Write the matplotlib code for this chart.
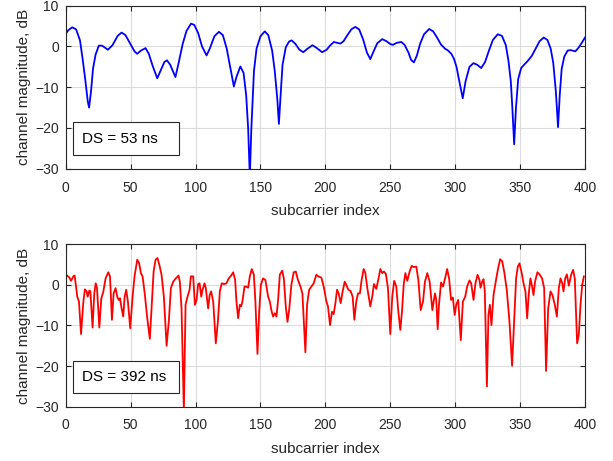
import matplotlib
matplotlib.use("Agg")
import matplotlib.pyplot as plt
from matplotlib.patches import Rectangle

plt.rcParams['font.family'] = ['Liberation Sans', 'DejaVu Sans']

# ---- data ----
blue_x = [0, 2, 5, 8, 11, 13, 15, 17, 18, 19.5, 21, 23, 25.5, 28, 32.5, 36, 40, 43, 46, 50,
          53, 55, 58, 61.5, 64, 67, 70.5, 73, 76, 78, 80.5, 84.5, 87, 90, 93, 96.5, 99, 102,
          105, 108.5, 111, 114.5, 118, 121, 124, 127, 129.5, 131.5, 134.5, 137, 139, 140.5,
          141.8, 143, 145, 147, 150, 153.3, 156, 159, 161, 163, 164.2, 165.5, 167, 169.5,
          172, 174, 177, 180, 183, 186, 190, 193, 197.5, 201, 203.5, 206.5, 209, 211.5, 214,
          217, 220, 223, 226, 229, 232, 234.6, 237, 240, 243.8, 247, 250, 252, 255, 258.5,
          261, 264, 266, 268.2, 270.5, 273, 276, 280, 283, 286, 289, 292, 294.5, 297, 299,
          301, 303, 305.8, 308, 311, 314, 317, 320, 323, 326, 329, 332.8, 336, 339, 341,
          342.8, 344, 345.4, 346.8, 348.5, 350.8, 353, 356, 359, 362, 365, 368.2, 371,
          373.5, 375.5, 377.5, 379.2, 380.5, 382, 384, 386.6, 389, 392.5, 395, 397.5, 400]
blue_db = [3.1, 4.0, 4.7, 4.2, 1.5, -3, -8, -13.5, -15, -11, -5.5, -2, 0.2, 0.2, -0.8, 0.3,
           2.6, 3.4, 2.8, 0.5, -1.2, -1.8, -1.0, -0.4, -1.8, -4.8, -7.8, -6, -3.8, -3.4,
           -4.5, -7.5, -4, 0.5, 3.8, 5.6, 5.3, 3.3, 0, -2.2, -0.5, 2.5, 3.6, 2.8, -0.5,
           -5.5, -9.8, -7.5, -4.9, -6.5, -12, -20, -32, -20, -6, -0.5, 2.5, 3.7, 2.8, -1,
           -6, -13, -19, -12, -4.5, -0.2, 1.2, 1.5, 0.6, -0.8, -1.4, -0.6, 0.3, -0.3, -1.4,
           -0.8, 0.2, 1.1, 0.9, 0.7, 1.3, 2.8, 4.2, 4.8, 4.2, 1.8, -1.5, -3.1, -1.3, 0.8,
           1.8, 1.3, 0.6, 0.4, 0.9, 1.1, 0.4, -1.5, -3.3, -3.9, -2.2, 0.7, 3, 4.3, 3.7, 2.2,
           0.5, -0.5, -1.0, -1.8, -3, -5, -8.3, -12.7, -8.5, -5, -4.1, -4.5, -5.3, -3.8,
           -1.0, 1.6, 3.0, 2.6, 0.3, -3.5, -8.5, -15, -24, -15, -8, -5.3, -4.5, -3.5, -2.3,
           -0.5, 1.3, 2.2, 1.6, -0.5, -4, -11, -19.8, -12, -5.5, -2.5, -1.0, -0.9, -1.2,
           -0.3, 0.9, 2.2]

red_x = [0, 2.8, 4.1, 5.9, 6.9, 7.9, 8.9, 10.2, 11.8, 13.6, 14.8, 16.1, 16.9, 18.2, 19,
         20.7, 22.0, 23.1, 24.1, 25.9, 27.4, 28.9, 30.7, 32.8, 34.1, 35.6, 36.9, 38.4, 39.7,
         40.8, 41.8, 43.1, 44.3, 45.4, 46.6, 47.9, 49.7, 51.5, 53.0, 55.1, 56.6, 57.9, 59.2,
         61.0, 62.8, 64.8, 66.1, 67.7, 69.2, 70.7, 72.3, 73.8, 75.6, 77.7, 79.5, 81.0, 82.8,
         84.8, 86.9, 87.9, 89.2, 91.0, 92.3, 93.8, 95.4, 96.4, 98.2, 99.5, 100.8, 102.0,
         103.1, 104.4, 105.4, 106.9, 107.9, 109.7, 110.9, 112.0, 113.6, 115.6, 117.2, 118.7,
         120.2, 122.0, 123.8, 125.4, 127.4, 129.0, 130.5, 131.5, 132.8, 134.1, 135.1, 136.1,
         137.7, 139.0, 140.5, 141.8, 143.3, 144.9, 146.1, 147.7, 149.0, 150.3, 152.0, 153.8,
         155.9, 157.2, 158.4, 159.7, 161.0, 162.3, 163.6, 164.9, 166.7, 168.0, 169.5, 170.8,
         172.1, 173.8, 175.6, 177.2, 178.9, 180.8, 182.3, 184.6, 185.9, 187.5, 189.2, 191.0,
         193.0, 194.6, 196.9, 198.7, 200.8, 202.0, 203.6, 205.1, 206.4, 207.7, 209.0, 210.2,
         211.8, 213.3, 214.9, 216.1, 217.7, 219.4, 221.0, 222.3, 223.8, 225.1, 226.6, 227.9,
         229.5, 230.8, 232.3, 234.6, 236.1, 237.4, 239.2, 240.7, 242.3, 243.8, 245.1, 246.6,
         248.2, 250.0, 251.5, 253.0, 254.6, 256.2, 257.7, 259.0, 260.3, 261.6, 263.1, 264.9,
         266.5, 268.0, 270.0, 271.6, 273.4, 275.2, 276.7, 278.5, 280.3, 282.4, 284.4, 285.4,
         286.5, 287.5, 289.1, 290.6, 292.2, 293.8, 295.3, 296.8, 298.2, 299.6, 300.8, 302.3,
         304.3, 305.9, 307.7, 309.2, 311.0, 312.3, 314.1, 315.6, 317.2, 318.7, 319.5, 320.8,
         321.8, 322.8, 324.4, 325.6, 326.7, 327.9, 329.5, 331.0, 332.8, 334.6, 336.2, 337.9,
         339.7, 341.8, 343.8, 345.6, 346.9, 348.2, 349.5, 351.0, 352.6, 354.1, 355.4, 356.7,
         357.9, 359.0, 360.3, 361.5, 363.3, 364.9, 366.9, 368.5, 370.0, 371.6, 373.4, 374.9,
         376.7, 378.3, 379.8, 381.1, 382.4, 383.4, 384.7, 386.0, 387.5, 389.3, 390.8, 392.1,
         393.9, 395.2, 396.5, 397.8, 399.1]
red_db = [2.6, 1.8, 1.0, 2.1, 2.3, -0.4, -2.9, -4.1, -12.1, -4.1, -1.1, -1.6, -2.9, -1.4,
          -1.6, -10.5, -2.1, 0.4, -0.8, -10.5, -3.3, -1.8, 1.6, 3.1, 2.1, -8.6, -2.1, -0.8,
          -2.9, -3.7, -3.3, -5.9, -7.8, -2.9, -1.2, -4.1, -10.7, -2.9, 2.1, 6.2, 5.3, 2.9,
          2.1, -2.5, -8.2, -13.3, -5.8, 3.3, 6.2, 6.6, 4.7, 2.5, -2.9, -15, -8.6, -0.8, 0.8,
          1.6, 2.3, 0.8, -5.8, -31, -4.9, -2.9, -1.2, 2.1, 2.1, -4.9, -3.7, 0.2, 0.4, -2.9,
          -1.2, 0.4, -0.8, -5.8, -2.5, -1.6, -4.1, -14.4, -9.1, -1.6, 0.4, 0.2, 0.4, 1.5,
          2.3, 3.1, 1.2, -4.1, -8.2, -4.9, -5.3, -4.1, -0.4, -0.4, -0.7, 2.1, 3.9, 2.5, -4.1,
          -17, -6.6, 0, 1.6, 1.2, -2.9, -4.1, -6.2, -7.8, -7.0, -7.8, -3.7, 2.5, 3.5, 1.6,
          -5.3, -9.1, -6.2, 0, 3.1, 3.3, 1.2, -0.4, -2.1, -16.6, -4.9, -1.2, -0.4, 0.4, 2.5,
          2.1, 1.8, -0.4, -4.1, -5.3, -9.9, -6.6, -7.2, -4.5, -1.2, -2.1, -4.5, -1.6, 0.8,
          0, -1.2, -1.5, -2.9, -8.6, -4.1, -2.1, -2.1, 1.2, 3.9, 2.9, -0.8, -5.3, -2.9, 0.2,
          -1.0, 1.2, 3.9, 2.9, 3.3, 2.7, -0.8, -12.1, -2.9, 1.0, -0.4, -6.6, -11.1, -6.6, 0,
          2.9, 1.0, 3.3, 4.7, 4.4, 4.5, 1.2, -6.2, -4.1, 0.8, 2.9, 0.8, -6.2, -2.1, -3.7,
          -10.9, -4.9, 0.6, -0.4, 1.6, 3.9, 1.6, -3.7, -3.1, -7.4, -4.9, -3.7, -13.6, -4.1,
          -2.9, -0.4, 1.1, 0.4, -3.7, 0.4, 2.5, 1.2, -0.7, 0.8, 1.4, -1.6, -25, -7.4, -4.9,
          -9.9, -2.5, 0.4, 3.7, 6.3, 5.8, 2.9, -1.2, -9.1, -19.9, -7.4, 1.6, 4.5, 5.3, 3.3,
          0.4, -1.6, -8.2, -2.1, 1.6, 0, -2.5, 0.8, 3.1, 2.6, 1.6, -0.8, -21.2, -5.8, -1.6,
          -2.5, -4.9, -7.8, -0.8, 1.6, 0.4, -1.6, 1.6, 2.6, -0.2, 2.5, 3.7, 1.6, -14.4,
          -12.3, -4.9, 0, 2.1]

xticks = [0, 50, 100, 150, 200, 250, 300, 350, 400]
yticks = [-30, -20, -10, 0, 10]
labels = ["DS = 53 ns", "DS = 392 ns"]
colors = ["#0000ff", "#ff0000"]

fig = plt.figure(figsize=(6.13, 4.61), dpi=100)
ax1 = fig.add_axes([0.1072, 0.634, 0.8472, 0.3536])
ax2 = fig.add_axes([0.1072, 0.1178, 0.8472, 0.3523])

series = [(blue_x, blue_db), (red_x, red_db)]
for ax, (xs, ys), lab, col in zip([ax1, ax2], series, labels, colors):
    ax.plot(xs, ys, color=col, lw=1.3, solid_joinstyle='round')
    ax.set_xlim(0, 400)
    ax.set_ylim(-30, 10)
    ax.set_xticks(xticks)
    ax.set_yticks(yticks)
    ax.grid(True, color='#dcdcdc', lw=0.8)
    ax.set_axisbelow(True)
    ax.tick_params(direction='in', top=True, right=True, labelsize=10,
                   colors='#262626', length=3.5, width=0.8)
    ax.tick_params(axis='x', pad=8.5)
    ax.tick_params(axis='y', pad=5)
    for s in ax.spines.values():
        s.set_color('#262626')
        s.set_linewidth(0.8)
    ax.set_xlabel("subcarrier index", fontsize=11, color='#262626', labelpad=7)
    ax.set_ylabel("channel magnitude, dB", fontsize=11, color='#262626', labelpad=3)
    ax.add_patch(Rectangle((0.0146, 0.082), 0.204, 0.202, transform=ax.transAxes,
                           facecolor='white', edgecolor='#262626', lw=0.8, zorder=5))
    ax.text(0.031, 0.183, lab, transform=ax.transAxes, fontsize=11,
            va='center', ha='left', color='black', zorder=6)

fig.savefig("out.png", dpi=100)
